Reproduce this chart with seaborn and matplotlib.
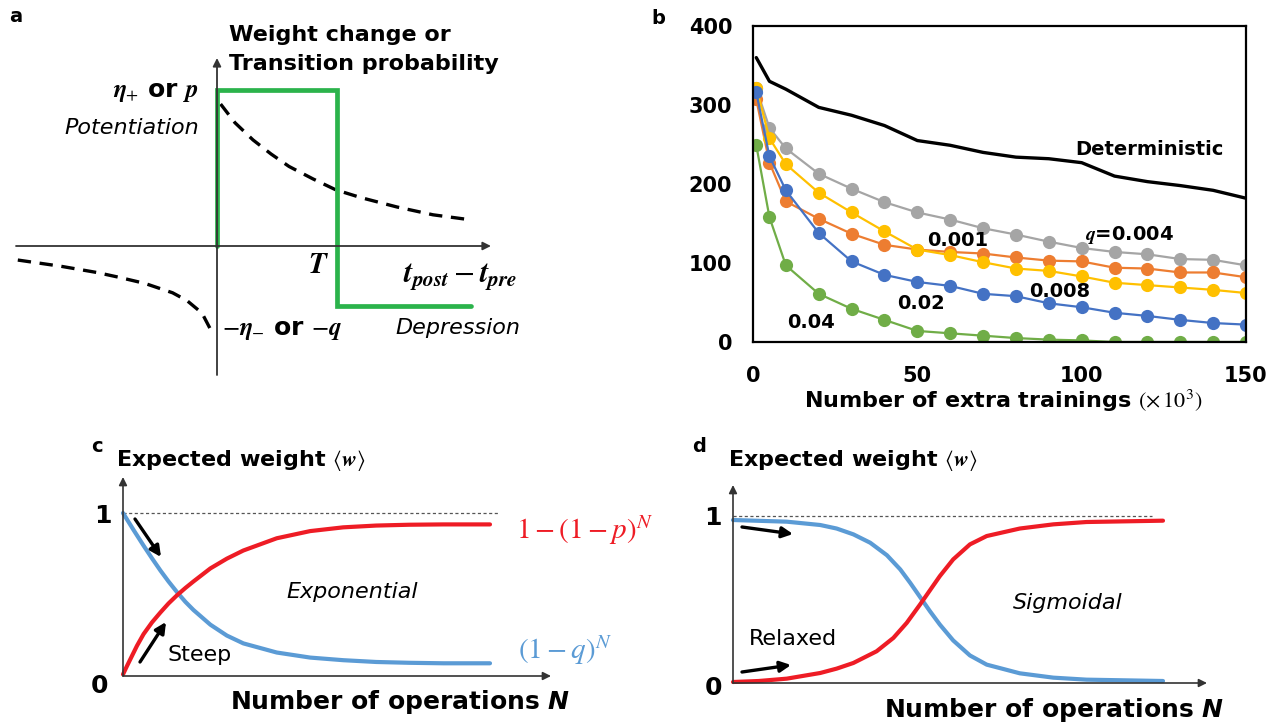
import numpy as np
import pandas as pd
import matplotlib
matplotlib.use("Agg")
import matplotlib.pyplot as plt
import seaborn as sns

sns.set_theme(style="white")
plt.rcParams["font.family"] = ["DejaVu Sans"]
plt.rcParams.update({
    "text.color": "black",
    "axes.labelcolor": "black",
    "xtick.color": "black",
    "ytick.color": "black",
    "mathtext.fontset": "custom",
    "mathtext.rm": "STIXGeneral",
    "mathtext.it": "STIXGeneral:italic",
    "mathtext.bf": "STIXGeneral:bold",
    "mathtext.bfit": "STIXGeneral:italic:bold",
    "mathtext.sf": "DejaVu Sans:italic:bold",
    "mathtext.fallback": "stix",
})

# ── colours ──────────────────────────────────────────────────────────────────
GREEN_STEP = "#2BB34B"
RED = "#EE1C25"
BLUE = "#5B9BD5"
AXC = "#333333"

# ── panel a : schematic learning windows ─────────────────────────────────────
step_t = [0, 0, 1, 1, 2.12]
step_v = [0, 1, 1, -0.385, -0.385]
stdp_pos_t = [0.03, 0.15, 0.3, 0.45, 0.6, 0.8, 0.99, 1.2, 1.5, 1.8, 2.12]
stdp_pos_v = [0.91, 0.79, 0.68, 0.59, 0.51, 0.43, 0.36, 0.31, 0.25, 0.20, 0.167]
stdp_neg_t = [-1.66, -1.3, -1.0, -0.82, -0.6, -0.37, -0.25, -0.125, -0.03]
stdp_neg_v = [-0.09, -0.13, -0.17, -0.20, -0.24, -0.30, -0.35, -0.43, -0.57]

# ── panel b : error vs extra trainings ───────────────────────────────────────
trainings = [1, 5, 10, 20, 30, 40, 50, 60, 70, 80, 90, 100, 110, 120, 130, 140, 150]
deterministic = [360, 330, 320, 297, 287, 274, 255, 249, 240, 234, 232, 227, 210, 203, 198, 192, 182]
q_labels = ["0.004", "0.001", "0.008", "0.02", "0.04"]
q_colors = ["#A5A5A5", "#ED7D31", "#FFC000", "#4472C4", "#70AD47"]
q_values = [
    [321, 271, 245, 213, 194, 177, 164, 155, 144, 136, 127, 119, 114, 111, 105, 104, 97],
    [307, 227, 178, 156, 137, 123, 117, 114, 112, 107, 103, 102, 94, 93, 88, 88, 82],
    [322, 258, 225, 189, 164, 140, 117, 110, 101, 93, 90, 83, 75, 72, 69, 66, 62],
    [316, 235, 192, 138, 102, 85, 76, 71, 61, 58, 49, 44, 37, 33, 28, 24, 22],
    [249, 158, 97, 61, 42, 28, 14, 11, 8, 5, 3, 2, 0, 0, 0, 0, 0],
]

# ── panel c : exponential ────────────────────────────────────────────────────
N_c_dep = [0, 0.029, 0.056, 0.079, 0.102, 0.124, 0.147, 0.17, 0.192, 0.238, 0.283,
           0.328, 0.419, 0.51, 0.60, 0.69, 0.78, 0.873, 1.0]
dep_c = [1.0, 0.895, 0.80, 0.722, 0.647, 0.58, 0.515, 0.455, 0.405, 0.315, 0.248,
         0.20, 0.144, 0.113, 0.097, 0.086, 0.081, 0.078, 0.078]
N_c_pot = [0, 0.011, 0.02, 0.038, 0.056, 0.079, 0.102, 0.124, 0.147, 0.17, 0.192,
           0.238, 0.283, 0.328, 0.419, 0.51, 0.60, 0.69, 0.78, 0.873, 1.0]
pot_c = [0.01, 0.062, 0.103, 0.185, 0.257, 0.329, 0.39, 0.445, 0.495, 0.54, 0.58,
         0.66, 0.72, 0.77, 0.845, 0.889, 0.912, 0.923, 0.928, 0.93, 0.93]

# ── panel d : sigmoidal ──────────────────────────────────────────────────────
N_d_dep = [0, 0.125, 0.203, 0.241, 0.28, 0.319, 0.358, 0.389, 0.412, 0.435, 0.458,
           0.481, 0.512, 0.551, 0.59, 0.667, 0.745, 0.822, 1.0]
dep_d = [0.976, 0.966, 0.946, 0.925, 0.89, 0.84, 0.765, 0.68, 0.60, 0.515, 0.43,
         0.35, 0.255, 0.165, 0.11, 0.058, 0.032, 0.02, 0.012]
N_d_pot = [0, 0.06, 0.125, 0.203, 0.241, 0.28, 0.334, 0.373, 0.404, 0.435, 0.458,
           0.481, 0.512, 0.551, 0.59, 0.667, 0.745, 0.822, 1.0]
pot_d = [0.006, 0.012, 0.026, 0.06, 0.086, 0.12, 0.19, 0.27, 0.36, 0.47, 0.555,
         0.64, 0.74, 0.83, 0.88, 0.925, 0.95, 0.964, 0.972]

W, H = 1284, 724
fig = plt.figure(figsize=(W / 100, H / 100), dpi=100, facecolor="white")


def ft(px, py, s, **kw):
    kw.setdefault("ha", "center")
    kw.setdefault("va", "center")
    return fig.text(px / W, 1 - py / H, s, **kw)


def farrow(p0, p1, lw=2.4, ms=16):
    fig.add_artist(matplotlib.patches.FancyArrowPatch(
        (p0[0] / W, 1 - p0[1] / H), (p1[0] / W, 1 - p1[1] / H),
        transform=fig.transFigure, arrowstyle="-|>", mutation_scale=ms,
        lw=lw, color="black", shrinkA=0, shrinkB=0))


def axarrow(ax, p0, p1, lw=1.2, ms=12, color=AXC):
    ax.annotate("", xy=p1, xytext=p0,
                arrowprops=dict(arrowstyle="-|>", lw=lw, color=color,
                                mutation_scale=ms, shrinkA=0, shrinkB=0))


# ── a ────────────────────────────────────────────────────────────────────────
ax_a = fig.add_axes([0, 344 / H, 560 / W, 380 / H])
ax_a.set_xlim(-217 / 120, 343 / 120)
ax_a.set_ylim(-134 / 156, 246 / 156)
ax_a.axis("off")
axarrow(ax_a, (-1.675, 0), (2.283, 0), lw=1.3)
axarrow(ax_a, (0, -0.827), (0, 1.205), lw=1.3)
ax_a.plot(stdp_pos_t, stdp_pos_v, color="black", lw=2.4, ls=(0, (4, 2.6)))
ax_a.plot(stdp_neg_t, stdp_neg_v, color="black", lw=2.4, ls=(0, (4, 2.6)))
ax_a.plot(step_t, step_v, color=GREEN_STEP, lw=3.4, solid_joinstyle="miter")

ft(16, 16, "a", fontsize=14, fontweight="bold")
ft(229, 35, "Weight change or", ha="left", fontsize=16, fontweight="bold")
ft(229, 64, "Transition probability", ha="left", fontsize=16, fontweight="bold")
ft(199, 92, r"$\mathbfit{\eta}_{+}$ or $\mathbfit{p}$", ha="right", fontsize=18, fontweight="bold")
ft(199, 128, "Potentiation", ha="right", fontsize=16, style="italic")
ft(318, 265, r"$\mathbfit{T}$", fontsize=21)
ft(403, 276, r"$\mathbfit{t}_{\mathbfit{post}}-\mathbfit{t}_{\mathbfit{pre}}$", ha="left", fontsize=22)
ft(222, 330, r"$-\mathbfit{\eta}_{-}$ or $-\mathbfit{q}$", ha="left", fontsize=18, fontweight="bold")
ft(395, 328, "Depression", ha="left", fontsize=16, style="italic")

# ── b ────────────────────────────────────────────────────────────────────────
ax_b = fig.add_axes([753 / W, (H - 342) / H, 493 / W, 316 / H])
long = pd.concat([pd.DataFrame({"trainings": trainings, "error": v, "q": lab})
                  for lab, v in zip(q_labels, q_values)], ignore_index=True)
sns.lineplot(data=long, x="trainings", y="error", hue="q", hue_order=q_labels,
             palette=dict(zip(q_labels, q_colors)), marker="o", markersize=9.5,
             markeredgewidth=0, linewidth=1.6, legend=False, ax=ax_b)
sns.lineplot(x=trainings, y=deterministic, color="black", linewidth=2.4, ax=ax_b)
ax_b.set_xlim(0, 150)
ax_b.set_ylim(0, 400)
ax_b.set_xticks([0, 50, 100, 150])
ax_b.set_yticks([0, 100, 200, 300, 400])
ax_b.tick_params(axis="y", length=0, pad=15, labelsize=15)
ax_b.tick_params(axis="x", length=0, pad=17, labelsize=15)
for lab in ax_b.get_xticklabels() + ax_b.get_yticklabels():
    lab.set_fontweight("bold")
for sp in ax_b.spines.values():
    sp.set_color("black")
    sp.set_linewidth(1.6)
ax_b.set_ylabel("")
ax_b.set_xlabel(r"Number of extra trainings $(\times\,10^{3})$", fontsize=16,
                fontweight="bold", va="center")
ax_b.xaxis.set_label_coords((1003 - 753) / 493, (342 - 401) / 316)
ax_b.text(98, 244, "Deterministic", fontsize=14, fontweight="bold", va="center")
ax_b.text(101, 136, r"$\mathbfit{q}$=0.004", fontsize=14, fontweight="bold", va="center")
ax_b.text(53, 129, "0.001", fontsize=14, fontweight="bold", va="center")
ax_b.text(84, 64, "0.008", fontsize=14, fontweight="bold", va="center")
ax_b.text(44, 49, "0.02", fontsize=14, fontweight="bold", va="center")
ax_b.text(10.5, 25, "0.04", fontsize=14, fontweight="bold", va="center")
ft(658, 18, "b", fontsize=14, fontweight="bold")

# ── c ────────────────────────────────────────────────────────────────────────
ax_c = fig.add_axes([0, 0, 680 / W, 294 / H])
ax_c.set_xlim(-123 / 367, 557 / 367)
ax_c.set_ylim(-48 / 163, 246 / 163)
ax_c.axis("off")
ax_c.plot([0, (499 - 123) / 367], [1, 1], color="#555555", lw=0.9, ls=(0, (2.5, 2)))
axarrow(ax_c, (0, 0), ((551 - 123) / 367, 0))
axarrow(ax_c, (0, 0), (0, (676 - 477) / 163))
sns.lineplot(x=N_c_dep, y=dep_c, color=BLUE, linewidth=3, ax=ax_c)
sns.lineplot(x=N_c_pot, y=pot_c, color=RED, linewidth=3, ax=ax_c)

ft(97, 447, "c", fontsize=14, fontweight="bold")
ft(116, 460, r"Expected weight $\langle \mathbfit{w} \rangle$", ha="left", fontsize=16, fontweight="bold")
ft(103, 516, "1", fontsize=18, fontweight="bold")
ft(100, 686, "0", fontsize=18, fontweight="bold")
ft(400, 702, r"Number of operations $\mathsf{N}$", fontsize=18, fontweight="bold")
ft(516, 530, r"$1-(1-p)^{N}$", ha="left", fontsize=21, color=RED)
ft(518, 650, r"$(1-q)^{N}$", ha="left", fontsize=21, color=BLUE)
ft(352, 592, "Exponential", fontsize=16, style="italic")
ft(200, 655, "Steep", fontsize=16)
farrow((135, 519), (161, 557))
farrow((140, 662), (166, 622))

# ── d ────────────────────────────────────────────────────────────────────────
ax_d = fig.add_axes([690 / W, 0, 594 / W, 294 / H])
ax_d.set_xlim(-43 / 430, 551 / 430)
ax_d.set_ylim(-41 / 167, 253 / 167)
ax_d.axis("off")
ax_d.plot([0, (1152 - 733) / 430], [1, 1], color="#555555", lw=0.9, ls=(0, (2.5, 2)))
axarrow(ax_d, (0, 0), ((1207 - 733) / 430, 0))
axarrow(ax_d, (0, 0), (0, (683 - 485) / 167))
sns.lineplot(x=N_d_dep, y=dep_d, color=BLUE, linewidth=3, ax=ax_d)
sns.lineplot(x=N_d_pot, y=pot_d, color=RED, linewidth=3, ax=ax_d)

ft(699, 447, "d", fontsize=14, fontweight="bold")
ft(728, 460, r"Expected weight $\langle \mathbfit{w} \rangle$", ha="left", fontsize=16, fontweight="bold")
ft(713, 518, "1", fontsize=18, fontweight="bold")
ft(713, 688, "0", fontsize=18, fontweight="bold")
ft(1054, 710, r"Number of operations $\mathsf{N}$", fontsize=18, fontweight="bold")
ft(793, 639, "Relaxed", fontsize=16)
ft(1068, 603, "Sigmoidal", fontsize=16, style="italic")
farrow((742, 527), (793, 534))
farrow((742, 672), (791, 665))

fig.savefig("out.png", dpi=100, facecolor="white")
